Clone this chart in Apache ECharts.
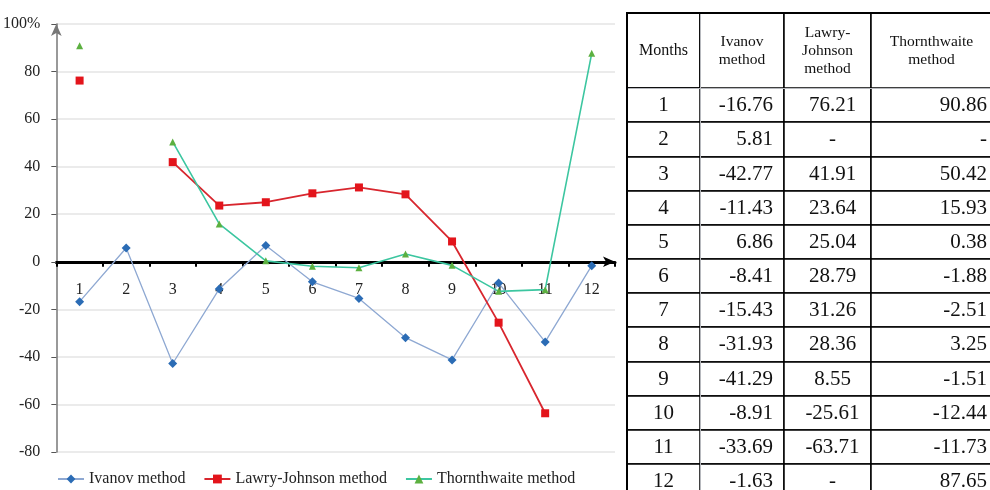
<!DOCTYPE html>
<html><head><meta charset="utf-8">
<script src="https://cdn.jsdelivr.net/npm/echarts@6/dist/echarts.min.js"></script>
<style>html,body{margin:0;padding:0;background:#fff}#c{width:990px;height:490px}</style>
</head><body><div id="c"></div>
<script>
const months = ['1','2','3','4','5','6','7','8','9','10','11','12'];
const ivanov = [-16.76, 5.81, -42.77, -11.43, 6.86, -8.41, -15.43, -31.93, -41.29, -8.91, -33.69, -1.63];
const lawryJohnson = [76.21, null, 41.91, 23.64, 25.04, 28.79, 31.26, 28.36, 8.55, -25.61, -63.71, null];
const thornthwaite = [90.86, null, 50.42, 15.93, 0.38, -1.88, -2.51, 3.25, -1.51, -12.44, -11.73, 87.65];
const seriesNames = ['Ivanov method', 'Lawry-Johnson method', 'Thornthwaite method'];
const tableHeaders = ['Ivanov\nmethod', 'Lawry-\nJohnson\nmethod', 'Thornthwaite\nmethod'];
const cornerLabel = 'Months';
const yMin = -80, yMax = 100, yStep = 20;

const serif = '"Liberation Serif", "Times New Roman", serif';
const fmt = v => (v === null || v === undefined) ? '-' : v.toFixed(2);
const cols = [ivanov, lawryJohnson, thornthwaite];
const colLabel = [
  { position: 'insideRight', distance: 8 },
  { padding: [0, 0, 0, 10] },
  { align: 'right', position: 'insideRight', distance: 2 }
];
const bodyData = [];
months.forEach((m, i) => {
  cols.forEach((arr, j) => {
    bodyData.push({ coord: [j, i], value: fmt(arr[i]), label: colLabel[j] });
  });
});

const gridTop = 24, gridBottom = 38, chartH = 490;
const plotH = chartH - gridTop - gridBottom;
const zeroOffset = -plotH * (0 - yMin) / (yMax - yMin);

const chart = echarts.init(document.getElementById('c'), null, { renderer: 'canvas' });
chart.setOption({
  animation: false,
  backgroundColor: '#fff',
  grid: { left: 55, right: 375, top: gridTop, bottom: gridBottom },
  legend: {
    left: 52, top: 466,
    itemWidth: 26, itemHeight: 11, itemGap: 18,
    textStyle: { fontFamily: serif, fontSize: 16, color: '#222' },
    data: seriesNames
  },
  xAxis: {
    type: 'category',
    data: months,
    boundaryGap: true,
    offset: zeroOffset,
    axisLine: { onZero: false, lineStyle: { color: '#000', width: 3 }, symbol: ['none', 'arrow'], symbolSize: [8, 12] },
    axisTick: { show: true, length: 5, lineStyle: { color: '#000', width: 2 } },
    axisLabel: { margin: 20, fontFamily: serif, fontSize: 16, color: '#222' },
    splitLine: { show: false }
  },
  yAxis: {
    type: 'value',
    min: yMin, max: yMax, interval: yStep,
    axisLine: { show: true, lineStyle: { color: '#777', width: 1.5 }, symbol: ['none', 'arrow'], symbolSize: [8, 12] },
    axisTick: { show: true, length: 5, lineStyle: { color: '#555' } },
    axisLabel: { margin: 16, fontFamily: serif, fontSize: 16, color: '#222',
      formatter: v => v === yMax ? v + '%' : String(v) },
    splitLine: { lineStyle: { color: '#e4e4e4', width: 1.5 } }
  },
  matrix: {
    left: 627, top: 13, width: 365, height: 485,
    x: {
      data: tableHeaders.map((h, i) => ({ value: h, size: [84, 87, 121][i] })),
      levelSize: 75,
      label: { fontFamily: serif, fontSize: 15.5, color: '#111', lineHeight: 18 },
      itemStyle: { borderColor: '#000', borderWidth: 1.5, color: '#fff' }
    },
    y: {
      data: months,
      levelSize: 73,
      label: { fontFamily: serif, fontSize: 21, color: '#111' },
      itemStyle: { borderColor: '#000', borderWidth: 1.5, color: '#fff' }
    },
    corner: {
      data: [{ coord: [-1, -1], value: cornerLabel }],
      label: { fontFamily: serif, fontSize: 16, color: '#111' },
      itemStyle: { borderColor: '#000', borderWidth: 1.5, color: '#fff' }
    },
    body: {
      data: bodyData,
      label: { fontFamily: serif, fontSize: 21, color: '#111' },
      itemStyle: { borderColor: '#000', borderWidth: 1.5, color: '#fff' }
    },
    backgroundStyle: { borderColor: '#000', borderWidth: 2 }
  },
  series: [
    {
      name: seriesNames[0], type: 'line', data: ivanov,
      symbol: 'diamond', symbolSize: 9,
      lineStyle: { color: '#8ea8d2', width: 1.3 },
      itemStyle: { color: '#2b6cb5' }, z: 3
    },
    {
      name: seriesNames[1], type: 'line', data: lawryJohnson,
      symbol: 'rect', symbolSize: 8,
      lineStyle: { color: '#d8262e', width: 1.8 },
      itemStyle: { color: '#e3141b' }, z: 4
    },
    {
      name: seriesNames[2], type: 'line', data: thornthwaite,
      symbol: 'triangle', symbolSize: 7,
      lineStyle: { color: '#3cc6a0', width: 1.6 },
      itemStyle: { color: '#5cb040' }, z: 5
    }
  ]
});
</script></body></html>
